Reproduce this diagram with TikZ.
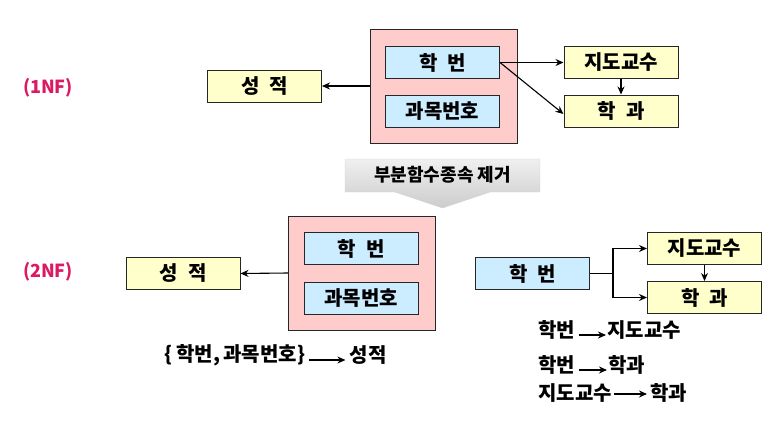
\documentclass[tikz,border=0pt]{standalone}
\usepackage{fontspec}
\setmainfont{Noto Sans CJK KR}
\usetikzlibrary{positioning,arrows.meta}

\definecolor{keyblue}{RGB}{204,236,255}
\definecolor{attrtan}{RGB}{255,255,204}
\definecolor{keypink}{RGB}{255,204,204}
\definecolor{nfred}{RGB}{220,25,100}

\newcommand{\gap}{\hspace{.5em}}

\tikzset{
  attr/.style={draw=black!85, line width=1pt, fill=attrtan, minimum width=114pt, minimum height=32pt,
    inner sep=0pt, font=\fontsize{20}{24}\selectfont\bfseries},
  keyattr/.style={attr, fill=keyblue},
  keygroup/.style={draw=black!85, line width=1pt, fill=keypink, minimum width=147pt, minimum height=114pt, inner sep=0pt},
  nflabel/.style={text=nfred, font=\fontsize{18}{21}\selectfont\bfseries},
  fdtext/.style={inner sep=0pt, font=\fontsize{20}{24}\selectfont\bfseries},
  conn/.style={line width=1.1pt, -{Stealth[length=8pt,width=7pt]}},
}

\begin{document}
\begin{tikzpicture}[x=1pt,y=-1pt]
  \useasboundingbox (0,0) rectangle (784,423);

  % 1NF
  \node[nflabel] (nf1) at (48,88) {(1NF)};
  \node[keygroup] (pk1) at (443.5,86) {};
  \node[keyattr] (hakbun1) at (442.5,62.5) {학\gap 번};
  \node[keyattr] (gwamok1) at (442.5,111) {과목번호};
  \node[attr] (seongjeok1) at (264.5,86) {성\gap 적};
  \node[attr] (jido1) at (621,62.5) {지도교수};
  \node[attr] (hakgwa1) at (621,111) {학\gap 과};
  \draw[conn] (pk1.west) -- (seongjeok1.east);
  \draw[conn] (hakbun1.east) -- (jido1.west);
  \draw[conn] (hakbun1.east) -- ([yshift=-3pt]hakgwa1.west);
  \draw[conn] (jido1.south) -- (hakgwa1.north);

  % decomposition arrow
  \shade[top color=gray!12, bottom color=gray!40, draw=gray!35]
    (345,159) -- (540,159) -- (540,192) -- (490,192) -- (442.5,208) -- (395,192) -- (345,192) -- cycle;
  \node[fdtext, font=\fontsize{18}{21}\selectfont\bfseries] (elim) at (442.5,175) {부분함수종속 제거};

  % 2NF
  \node[nflabel] (nf2) at (48,272) {(2NF)};
  \node[keygroup] (pk2) at (362,273) {};
  \node[keyattr] (hakbun2) at (361,248.5) {학\gap 번};
  \node[keyattr] (gwamok2) at (361,298.5) {과목번호};
  \node[attr] (seongjeok2) at (183,273.5) {성\gap 적};
  \draw[conn] (pk2.west) -- (seongjeok2.east);

  \node[keyattr] (hakbun3) at (532.5,273.5) {학\gap 번};
  \node[attr] (jido3) at (704.5,248.5) {지도교수};
  \node[attr] (hakgwa3) at (704.5,297.5) {학\gap 과};
  \coordinate (branch) at (613,273.5);
  \draw[line width=1.1pt] (hakbun3.east) -- (branch);
  \draw[conn] (branch) |- (jido3.west);
  \draw[conn] (branch) |- (hakgwa3.west);
  \draw[conn] (jido3.south) -- (hakgwa3.north);

  % functional dependencies
  \node[fdtext] (fdkey) at (235,355) {\{\,학번,\,과목번호\}};
  \node[fdtext] (fdgrade) at (368,355) {성적};
  \draw[conn] ([yshift=-5pt,xshift=4pt]fdkey.east) -- ([yshift=-5pt,xshift=-4pt]fdgrade.west);

  \node[fdtext, anchor=west] (fdaL) at (538,330) {학번};
  \node[fdtext, anchor=west] (fdaR) at (607,330) {지도교수};
  \draw[conn] ([yshift=-5pt,xshift=4pt]fdaL.east) -- ([yshift=-5pt,xshift=-1pt]fdaR.west);

  \node[fdtext, anchor=west] (fdbL) at (538,365) {학번};
  \node[fdtext, anchor=west] (fdbR) at (608,365) {학과};
  \draw[conn] ([yshift=-5pt,xshift=4pt]fdbL.east) -- ([yshift=-5pt,xshift=-1pt]fdbR.west);

  \node[fdtext, anchor=west] (fdcL) at (538,393) {지도교수};
  \node[fdtext, anchor=west] (fdcR) at (650,393) {학과};
  \draw[conn] ([yshift=-1pt,xshift=2pt]fdcL.east) -- ([yshift=-1pt,xshift=-3pt]fdcR.west);
\end{tikzpicture}
\end{document}
